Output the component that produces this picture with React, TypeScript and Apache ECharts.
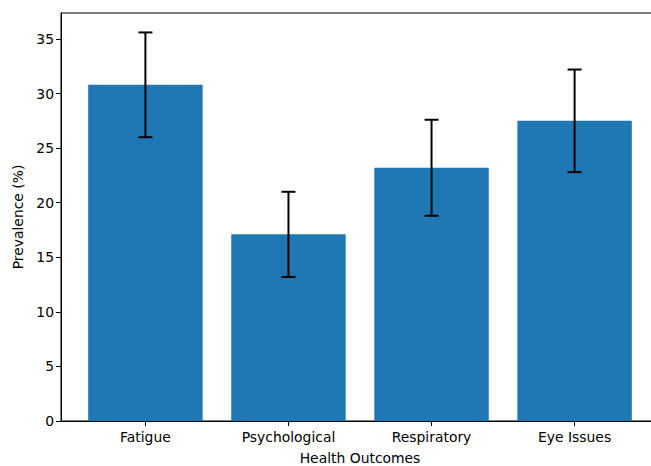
import React, { useEffect, useRef } from "react";
import * as echarts from "echarts";

const categories = ["Fatigue", "Psychological", "Respiratory", "Eye Issues"];
const prevalence = [30.8, 17.1, 23.2, 27.5];
const errors = [4.8, 3.9, 4.4, 4.7];
const yTicks = [0, 5, 10, 15, 20, 25, 30, 35];

export default function App() {
  const ref = useRef<HTMLDivElement>(null);
  useEffect(() => {
    document.body.style.margin = "0";
    document.body.style.overflow = "hidden";
    const chart = echarts.init(ref.current!, null, { renderer: "svg" });
    const font = "DejaVu Sans";
    const idx = categories.map((_, i) => i);
    chart.setOption({
      animation: false,
      grid: {
        left: 61,
        right: 0,
        top: 13,
        bottom: 45,
        outerBoundsMode: "none",
        containLabel: false,
        show: true,
        borderColor: "#000",
        borderWidth: 1,
        backgroundColor: "transparent",
      },
      xAxis: {
        type: "value",
        min: -0.59,
        max: 3.59,
        name: "Health Outcomes",
        nameLocation: "middle",
        nameGap: 30,
        nameTextStyle: { fontFamily: font, fontSize: 13.9, color: "#000" },
        axisLine: { show: true, onZero: false, lineStyle: { color: "#000", width: 1 } },
        axisTick: { show: true, length: 5, customValues: idx, lineStyle: { color: "#000" } },
        axisLabel: {
          customValues: idx,
          formatter: (v: number) => categories[Math.round(v)] ?? "",
          fontFamily: font,
          fontSize: 13.9,
          color: "#000",
          margin: 9,
        },
        splitLine: { show: false },
      },
      yAxis: {
        type: "value",
        min: 0,
        max: 37.38,
        interval: 5,
        name: "Prevalence (%)",
        nameLocation: "middle",
        nameGap: 36,
        nameTextStyle: { fontFamily: font, fontSize: 13.9, color: "#000" },
        axisLine: { show: true, onZero: false, lineStyle: { color: "#000", width: 1 } },
        axisTick: { show: true, length: 5, lineStyle: { color: "#000" } },
        axisLabel: {
          formatter: (v: number) => (yTicks.includes(v) ? String(v) : ""),
          showMaxLabel: false,
          fontFamily: font,
          fontSize: 13.9,
          color: "#000",
          margin: 7,
        },
        splitLine: { show: false },
      },
      series: [
        {
          type: "custom",
          clip: true,
          data: prevalence.map((v, i) => [i, v]),
          renderItem: (params: any, api: any) => {
            const i = api.value(0);
            const v = api.value(1);
            const p1 = api.coord([i - 0.4, v]);
            const p2 = api.coord([i + 0.4, 0]);
            return {
              type: "rect",
              shape: { x: p1[0], y: p1[1], width: p2[0] - p1[0], height: p2[1] - p1[1] },
              style: { fill: "#1f77b4" },
            };
          },
          z: 2,
        },
        {
          type: "custom",
          data: prevalence.map((v, i) => [i, v, errors[i]]),
          renderItem: (params: any, api: any) => {
            const i = api.value(0);
            const v = api.value(1);
            const e = api.value(2);
            const lo = api.coord([i, v - e]);
            const hi = api.coord([i, v + e]);
            const cap = 7;
            const st = { stroke: "#000", lineWidth: 2 };
            return {
              type: "group",
              children: [
                { type: "line", shape: { x1: lo[0], y1: lo[1], x2: hi[0], y2: hi[1] }, style: st },
                { type: "line", shape: { x1: lo[0] - cap, y1: lo[1], x2: lo[0] + cap, y2: lo[1] }, style: st },
                { type: "line", shape: { x1: hi[0] - cap, y1: hi[1], x2: hi[0] + cap, y2: hi[1] }, style: st },
              ],
            };
          },
          z: 3,
        },
      ],
    });
    return () => chart.dispose();
  }, []);
  return <div ref={ref} style={{ width: 659, height: 466 }} />;
}
